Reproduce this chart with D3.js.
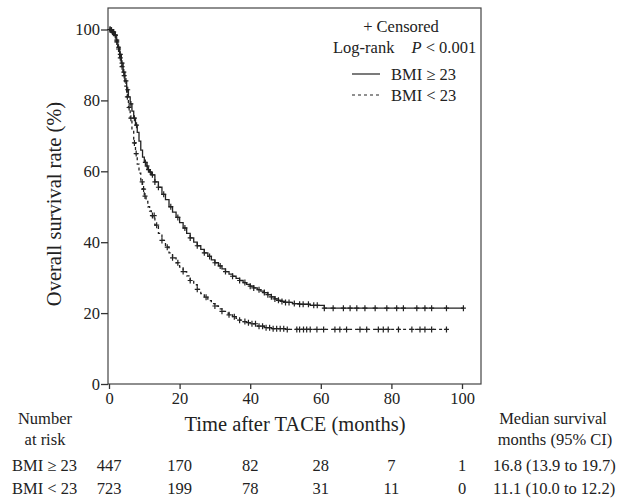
<!DOCTYPE html>
<html>
<head>
<meta charset="utf-8">
<script src="https://cdn.jsdelivr.net/npm/d3@7"></script>
<style>
  body { margin: 0; background: #fff; }
  text { font-family: "Liberation Serif", "Times New Roman", serif; fill: #222; }
</style>
</head>
<body>
<script>
// KM curves (months, survival %)
const highTimes = [0, 0.5, 1, 1.5, 2, 2.5, 3, 3.5, 4, 4.5, 5, 5.5, 6, 6.5, 7, 7.5, 8, 8.5, 9, 9.5, 10, 10.5, 11, 11.5, 12, 13, 14, 15, 16, 17, 18, 19, 20, 21, 22, 23, 24, 25, 26, 27, 28, 29, 30, 31, 32, 33, 34, 35, 36, 37, 38, 39, 40, 41, 42, 43, 44, 45, 46, 47, 48, 49, 50, 52, 54, 57, 61, 100.4]
const highSurv = [100, 99.8, 99.3, 98.5, 97, 95, 93, 90.5, 88, 85.5, 83, 81, 79, 77, 75, 73, 71, 68.5, 66, 64, 62.5, 61.5, 60.5, 59.8, 59, 57, 55.5, 53.5, 52, 50, 48.5, 47, 45.5, 44, 42.5, 41.2, 40, 39, 38, 37, 36, 35, 34.2, 33.3, 32.5, 31.7, 31, 30.4, 29.8, 29.2, 28.6, 28.1, 27.6, 27.1, 26.6, 26.2, 25.8, 25.2, 24.6, 24, 23.6, 23.3, 23, 22.7, 22.5, 22.2, 21.4, 21.4]
const lowTimes = [0, 0.5, 1, 1.5, 2, 2.5, 3, 3.5, 4, 4.5, 5, 5.5, 6, 6.5, 7, 7.5, 8, 8.5, 9, 9.5, 10, 10.5, 11, 11.5, 12, 13, 14, 15, 16, 17, 18, 19, 20, 21, 22, 23, 24, 25, 26, 27, 28, 29, 30, 31, 32, 33, 34, 35, 36, 37, 38, 39, 40, 42, 44, 46, 50, 95.6]
const lowSurv = [100, 99.8, 99.3, 98.3, 96.5, 94.5, 92, 89.5, 87, 84, 81, 78, 75, 71.5, 68, 65, 62, 59.5, 57, 55, 53, 51.5, 50, 48.8, 47.5, 44.8, 42.5, 40.5, 38.6, 37, 35.6, 34.2, 33, 31.7, 30.5, 29.2, 28, 26.7, 25.5, 24.5, 23.5, 22.7, 22, 21.2, 20.5, 20, 19.5, 19, 18.5, 18, 17.6, 17.3, 17, 16.3, 15.9, 15.6, 15.4, 15.4]

// censored times
const highCensor = [0.3, 0.7, 1, 1.3, 1.8, 2.2, 2.7, 3.2, 3.7, 4.2, 4.8, 5.3, 6.2, 7.2, 7.8, 10.3, 10.8, 11.2, 11.7, 12.3, 13, 14, 15.5, 17.5, 19.5, 21.5, 23, 25, 27, 28.5, 30, 31.5, 33, 35, 37, 38.5, 40, 41, 42.5, 44, 45, 46, 47, 48, 49, 50, 51, 52.5, 54, 55, 56.5, 58, 59, 61, 63.5, 66.4, 68.3, 70.2, 72.5, 75.4, 78.7, 81.5, 83.4, 87.2, 89.5, 91.4, 95.6, 100.4]
const lowCensor = [0.3, 0.7, 1, 1.3, 1.8, 2.2, 2.7, 3.2, 3.7, 4.3, 5.2, 5.7, 6.2, 7.2, 7.7, 9.4, 9.8, 10.2, 12.3, 12.8, 13.5, 15, 16.5, 18, 19.5, 21, 23, 25, 27.5, 30, 32, 34, 35.5, 37, 38.5, 39.5, 40.5, 41.5, 42.5, 43.5, 44.5, 45.5, 46.5, 47.5, 48.5, 49.5, 50.5, 53.2, 54, 55.1, 56, 57, 58.9, 60.8, 64, 65.4, 67.3, 71.1, 73, 76.3, 77.7, 79.1, 82, 85.8, 88.1, 89.5, 91.4, 95.6]

const xTicks = [0, 20, 40, 60, 80, 100]
const yTicks = [0, 20, 40, 60, 80, 100]
const groups = ['BMI \u2265 23', 'BMI < 23']
const atRiskHigh = [447, 170, 82, 28, 7, 1]
const atRiskLow = [723, 199, 78, 31, 11, 0]
const medians = ['16.8 (13.9 to 19.7)', '11.1 (10.0 to 12.2)']

const m = {
    width: 617,
    height: 501,
    left: 108,
    right: 481,
    top: 8,
    bottom: 384
}
const fs = 16.5

const svg = d3.select('body').append('svg')
    .attr('width', m.width)
    .attr('height', m.height)

const x = d3.scaleLinear()
    .domain([0, 100])
    .range([109, 462])

const y = d3.scaleLinear()
    .domain([0, 100])
    .range([m.bottom, m.bottom - 354.5])

// frame
svg.append('rect')
    .attr('x', m.left)
    .attr('y', m.top)
    .attr('width', m.right - m.left)
    .attr('height', m.bottom - m.top)
    .attr('fill', 'none')
    .attr('stroke', '#444')
    .attr('stroke-width', 1.2)

const xAxis = svg.append('g')
    .attr('transform', `translate(0,${m.bottom})`)
    .call(d3.axisBottom(x).tickValues(xTicks).tickSize(5).tickPadding(3))
xAxis.select('.domain').remove()

const yAxis = svg.append('g')
    .attr('transform', `translate(${m.left},0)`)
    .call(d3.axisLeft(y).tickValues(yTicks).tickSize(7).tickPadding(1))
yAxis.select('.domain').remove()

svg.selectAll('.tick line').attr('stroke', '#333').attr('stroke-width', 1.3)
svg.selectAll('.tick text')
    .attr('font-family', 'Liberation Serif')
    .attr('font-size', fs)
    .attr('fill', '#222')

svg.append('text')
    .attr('transform', `translate(61,${(m.top + m.bottom) / 2 + 8}) rotate(-90)`)
    .attr('text-anchor', 'middle')
    .attr('font-size', 20.5)
    .text('Overall survival rate (%)')

svg.append('text')
    .attr('x', 295)
    .attr('y', 431)
    .attr('text-anchor', 'middle')
    .attr('font-size', 20.5)
    .text('Time after TACE (months)')

// curves
const line = d3.line()
    .x(d => x(d[0]))
    .y(d => y(d[1]))
    .curve(d3.curveStepAfter)

function survAt(times, surv, t) {
    let i = d3.bisectRight(times, t) - 1
    if (i < 0) i = 0
    return surv[i]
}

const series = [
    { times: highTimes, surv: highSurv, cens: highCensor, dash: null },
    { times: lowTimes, surv: lowSurv, cens: lowCensor, dash: '3,3' }
]

series.forEach(function (s) {
    svg.append('path')
        .attr('d', line(d3.zip(s.times, s.surv)))
        .attr('fill', 'none')
        .attr('stroke', '#222')
        .attr('stroke-width', 1.3)
        .attr('stroke-dasharray', s.dash)

    svg.selectAll(null)
        .data(s.cens)
        .enter()
        .append('path')
        .attr('transform', d => `translate(${x(d)},${y(survAt(s.times, s.surv, d))})`)
        .attr('d', 'M-2.5,0H2.5M0,-3V3')
        .attr('stroke', '#222')
        .attr('stroke-width', 1.2)
})

// legend
svg.append('text')
    .attr('x', 401)
    .attr('y', 32)
    .attr('text-anchor', 'middle')
    .attr('font-size', fs)
    .text('+ Censored')

const lr = svg.append('text')
    .attr('x', 333)
    .attr('y', 53)
    .attr('font-size', fs)
lr.append('tspan').text('Log-rank')
lr.append('tspan').attr('dx', 17).attr('font-style', 'italic').text('P')
lr.append('tspan').text(' < 0.001')

groups.forEach(function (g, i) {
    const ly = 74 + i * 21
    svg.append('line')
        .attr('x1', 352)
        .attr('x2', 380)
        .attr('y1', ly)
        .attr('y2', ly)
        .attr('stroke', '#222')
        .attr('stroke-width', 1.2)
        .attr('stroke-dasharray', series[i].dash)
    svg.append('text')
        .attr('x', 391)
        .attr('y', ly + 5.5)
        .attr('font-size', fs)
        .text(g)
})

// number at risk table
svg.append('text').attr('x', 45).attr('y', 424).attr('text-anchor', 'middle').attr('font-size', fs).text('Number')
svg.append('text').attr('x', 45).attr('y', 445).attr('text-anchor', 'middle').attr('font-size', fs).text('at risk')
svg.append('text').attr('x', 553).attr('y', 424).attr('text-anchor', 'middle').attr('font-size', fs).text('Median survival')
svg.append('text').attr('x', 555).attr('y', 445).attr('text-anchor', 'middle').attr('font-size', fs).text('months (95% CI)')

const rows = [atRiskHigh, atRiskLow]
rows.forEach(function (r, i) {
    const ry = 471 + i * 23
    svg.append('text')
        .attr('x', 12)
        .attr('y', ry)
        .attr('font-size', fs)
        .text(groups[i])
    svg.selectAll(null)
        .data(r)
        .enter()
        .append('text')
        .attr('x', (d, j) => x(xTicks[j]))
        .attr('y', ry)
        .attr('text-anchor', 'middle')
        .attr('font-size', fs)
        .text(d => d)
    svg.append('text')
        .attr('x', 493)
        .attr('y', ry)
        .attr('font-size', fs)
        .text(medians[i])
})
</script>
</body>
</html>
